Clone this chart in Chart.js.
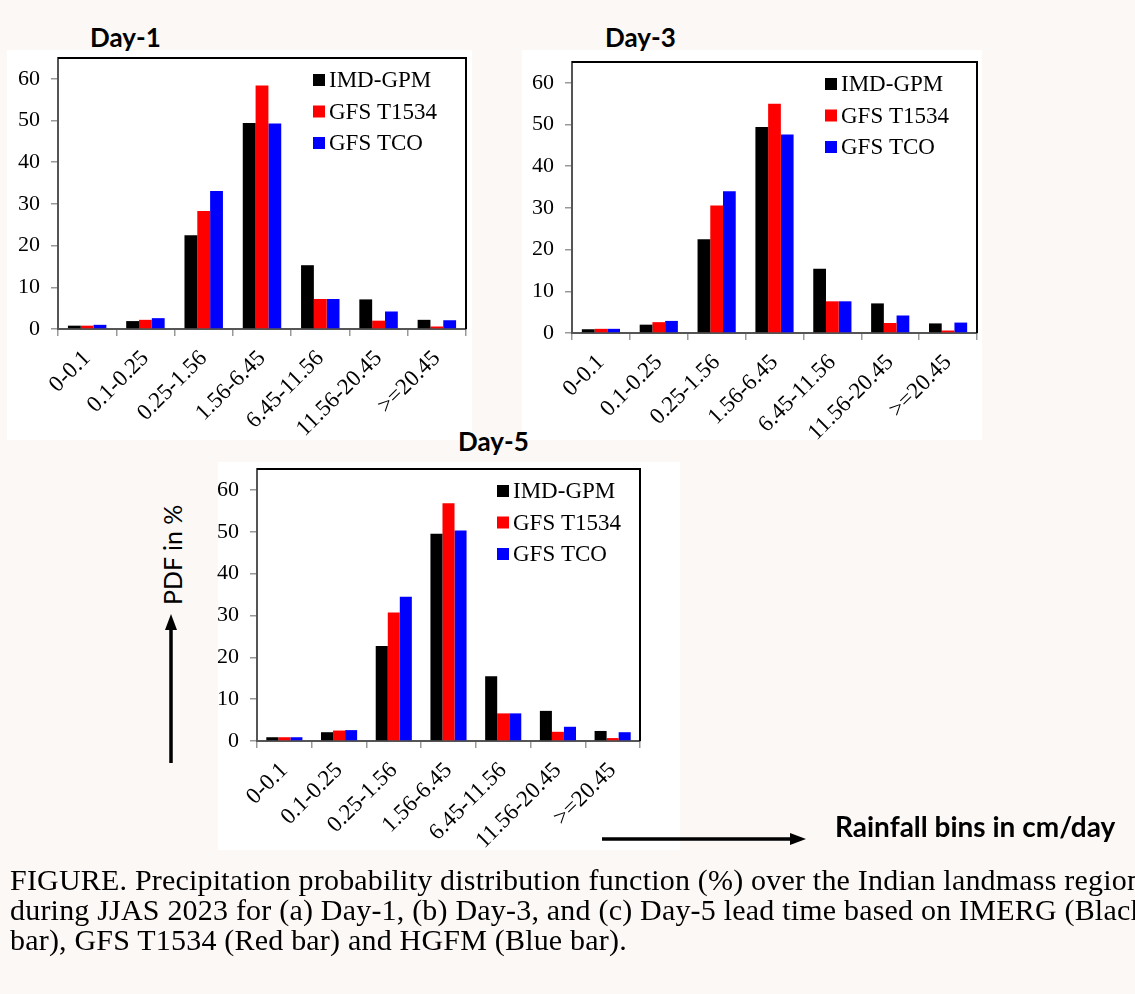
<!DOCTYPE html>
<html>
<head>
<meta charset="utf-8">
<script src="https://cdn.jsdelivr.net/npm/chart.js@4.4.1/dist/chart.umd.min.js"></script>
<style>
  html, body { margin: 0; padding: 0; }
  body { width: 1135px; height: 994px; background: #fcf8f6; position: relative; overflow: hidden; }
  .panel { position: absolute; background: #fff; }
  .box { position: absolute; }
  .title { position: absolute; font-family: Lato, sans-serif; font-weight: bold; font-size: 26px; color: #000; line-height: 1; }
  .caption { position: absolute; left: 10px; top: 865px; font-family: 'Liberation Serif', serif; font-size: 30px; letter-spacing: 0.2px; line-height: 30px; white-space: nowrap; color: #000; }
  .ylab { position: absolute; font-family: Lato, sans-serif; font-size: 25px; transform: rotate(-90deg); transform-origin: center; white-space: nowrap; }
  .xlab { position: absolute; font-family: Lato, sans-serif; font-weight: bold; font-size: 28px; white-space: nowrap; line-height: 1; }
</style>
</head>
<body>
<div class="panel" style="left:7px;top:50px;width:465px;height:390px"></div>
<div class="panel" style="left:522px;top:50px;width:460px;height:390px"></div>
<div class="panel" style="left:218px;top:462px;width:462px;height:388px"></div>

<div class="title" style="left:90px;top:24px">Day-1</div>
<div class="title" style="left:605px;top:24px">Day-3</div>
<div class="title" style="left:458px;top:428px">Day-5</div>

<div class="box" style="left:0px;top:40px;width:490px;height:400px"><canvas id="day1"></canvas></div>
<div class="box" style="left:515px;top:40px;width:480px;height:400px"><canvas id="day3"></canvas></div>
<div class="box" style="left:200px;top:450px;width:490px;height:400px"><canvas id="day5"></canvas></div>

<div class="ylab" style="left:122px;top:540px;width:100px;text-align:center">PDF in %</div>
<svg style="position:absolute;left:0;top:0" width="1135" height="994">
  <line x1="171" y1="763" x2="171" y2="628" stroke="#000" stroke-width="3.5"/>
  <polygon points="171,614 165,630 177,630" fill="#000"/>
  <line x1="602" y1="839" x2="792" y2="839" stroke="#000" stroke-width="3.5"/>
  <polygon points="806,839 790,833 790,845" fill="#000"/>
</svg>
<div class="xlab" style="left:835px;top:812px">Rainfall bins in cm/day</div>

<div class="caption">FIGURE. Precipitation probability distribution function (%) over the Indian landmass region<br>during JJAS 2023 for (a) Day-1, (b) Day-3, and (c) Day-5 lead time based on IMERG (Black<br>bar), GFS T1534 (Red bar) and HGFM (Blue bar).</div>

<script>
const bins = ['0-0.1', '0.1-0.25', '0.25-1.56', '1.56-6.45', '6.45-11.56', '11.56-20.45', '>=20.45'];
const seriesNames = ['IMD-GPM', 'GFS T1534', 'GFS TCO'];
const seriesColors = ['#000000', '#ff0000', '#0000ff'];
const yTicks = [0, 10, 20, 30, 40, 50, 60];

// PDF in % per bin
const day1Imd = [0.8, 1.9, 22.5, 49.4, 15.3, 7.1, 2.2];
const day1T1534 = [0.8, 2.2, 28.3, 58.4, 7.2, 2.0, 0.6];
const day1Tco = [1.0, 2.6, 33.1, 49.3, 7.2, 4.2, 2.1];

const day3Imd = [0.9, 2.0, 22.5, 49.4, 15.4, 7.1, 2.3];
const day3T1534 = [1.0, 2.6, 30.6, 55.0, 7.6, 2.4, 0.6];
const day3Tco = [1.0, 2.9, 34.0, 47.6, 7.6, 4.2, 2.5];

const day5Imd = [0.9, 2.1, 22.7, 49.5, 15.5, 7.2, 2.4];
const day5T1534 = [0.9, 2.5, 30.7, 56.8, 6.6, 2.2, 0.7];
const day5Tco = [0.9, 2.6, 34.5, 50.3, 6.6, 3.4, 2.1];

Chart.defaults.font.family = "'Liberation Serif', 'Times New Roman', serif";
Chart.defaults.color = '#000';

// top + right side of the box
const framePlugin = {
    id: 'frame',
    afterDraw(chart) {
        const a = chart.chartArea;
        const c = chart.ctx;
        c.save();
        c.strokeStyle = '#000';
        c.lineWidth = 2;
        c.beginPath();
        c.moveTo(a.left, a.top);
        c.lineTo(a.right, a.top);
        c.lineTo(a.right, a.bottom);
        c.stroke();
        c.restore();
    }
};

// legend in the upper right of the plot
const boxLegend = {
    id: 'boxLegend',
    afterDraw(chart, args, opts) {
        const a = chart.chartArea;
        const c = chart.ctx;
        c.save();
        c.font = "23px 'Liberation Serif', serif";
        c.textBaseline = 'middle';
        chart.data.datasets.forEach((ds, i) => {
            const y = a.top + 22 + i * 31.5;
            const x = a.right - opts.fromRight;
            c.fillStyle = ds.backgroundColor;
            c.fillRect(x, y - 6, 12, 12);
            c.fillStyle = '#000';
            c.fillText(ds.label, x + 16, y + 1);
        });
        c.restore();
    }
};

function makeChart(id, imd, t1534, tco, pad, xHeight, fromRight) {
    const values = [imd, t1534, tco];
    return new Chart(document.getElementById(id), {
        type: 'bar',
        data: {
            labels: bins,
            datasets: values.map((v, i) => ({
                label: seriesNames[i],
                data: v,
                backgroundColor: seriesColors[i],
                borderWidth: 0,
                categoryPercentage: 0.66,
                barPercentage: 1.0
            }))
        },
        options: {
            responsive: true,
            maintainAspectRatio: false,
            animation: false,
            layout: { padding: pad },
            plugins: {
                legend: { display: false },
                tooltip: { enabled: false },
                boxLegend: { fromRight: fromRight }
            },
            scales: {
                x: {
                    grid: { offset: true, drawOnChartArea: false, drawTicks: true, tickLength: 7, color: '#999', lineWidth: 1.5 },
                    border: { color: '#555', width: 2 },
                    ticks: { maxRotation: 45, minRotation: 45, font: { size: 23 }, padding: 9, autoSkip: false },
                    afterFit(scale) {
                        scale.height = xHeight;
                        scale.paddingLeft = 0;
                        scale.paddingRight = 0;
                    }
                },
                y: {
                    min: 0,
                    max: 65,
                    grid: { drawOnChartArea: false, drawTicks: true, tickLength: 7, color: '#999', lineWidth: 1.5 },
                    border: { color: '#555', width: 2 },
                    ticks: { stepSize: 10, font: { size: 22 }, padding: 11 },
                    afterBuildTicks(axis) { axis.ticks = yTicks.map(v => ({ value: v })); },
                    afterFit(scale) {
                        scale.width = 50;
                        scale.paddingTop = 0;
                        scale.paddingBottom = 0;
                    }
                }
            }
        },
        plugins: [framePlugin, boxLegend]
    });
}

makeChart('day1', day1Imd, day1T1534, day1Tco, { left: 8, top: 18, right: 24, bottom: 0 }, 111, 153);
makeChart('day3', day3Imd, day3T1534, day3Tco, { left: 7, top: 22, right: 18, bottom: 0 }, 107, 152);
makeChart('day5', day5Imd, day5T1534, day5Tco, { left: 7, top: 19, right: 50, bottom: 0 }, 109, 143);
</script>
</body>
</html>
